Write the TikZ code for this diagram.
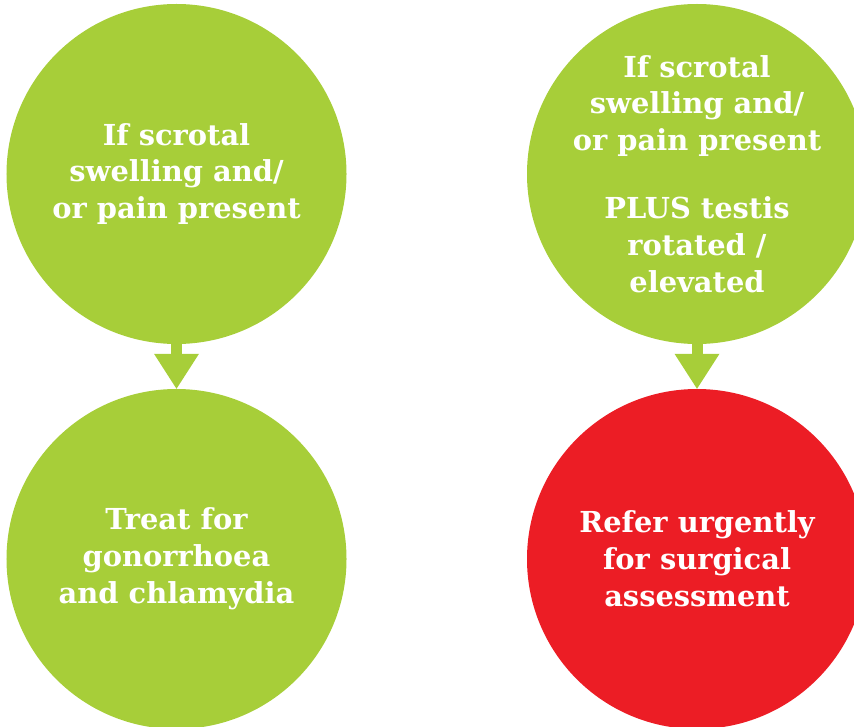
\documentclass[tikz,border=0pt]{standalone}
\usepackage{fontspec}
\setmainfont{DejaVu Serif}
\usepackage{tikz}
\usetikzlibrary{arrows.meta}
\definecolor{leafgreen}{RGB}{167,206,57}
\definecolor{alertred}{RGB}{236,29,37}
\tikzstyle{bubble} = [circle, minimum size=340bp, inner sep=-20bp, align=center, text=white, font=\fontsize{29}{37}\selectfont\bfseries]
\tikzstyle{flow} = [line width=11bp, leafgreen, -{Triangle[width=45bp,length=35bp,line width=0pt]}]

\begin{document}
\begin{tikzpicture}[x=1bp, y=-1bp]
  \useasboundingbox (0,0) rectangle (854,727);
  \clip (0,0) rectangle (854,727);

  % TOP ROW
  % left question
  \node[bubble, fill=leafgreen] (swelling) at (176.5,174)
    {If scrotal\\swelling and/\\or pain present};
  % right question
  \node[bubble, fill=leafgreen] (torsion) at (697,174)
    {If scrotal\\swelling and/\\or pain present\\[31bp]PLUS testis\\rotated /\\elevated};

  % BOTTOM ROW
  % left action
  \node[bubble, fill=leafgreen] (treat) at (176.5,559)
    {Treat for\\gonorrhoea\\and chlamydia};
  % right action
  \node[bubble, fill=alertred] (refer) at (697,559)
    {Refer urgently\\for surgical\\assessment};

  % ARROWS
  \draw[flow] (swelling.south) -- (treat.north);
  \draw[flow] (torsion.south) -- (refer.north);
\end{tikzpicture}
\end{document}
